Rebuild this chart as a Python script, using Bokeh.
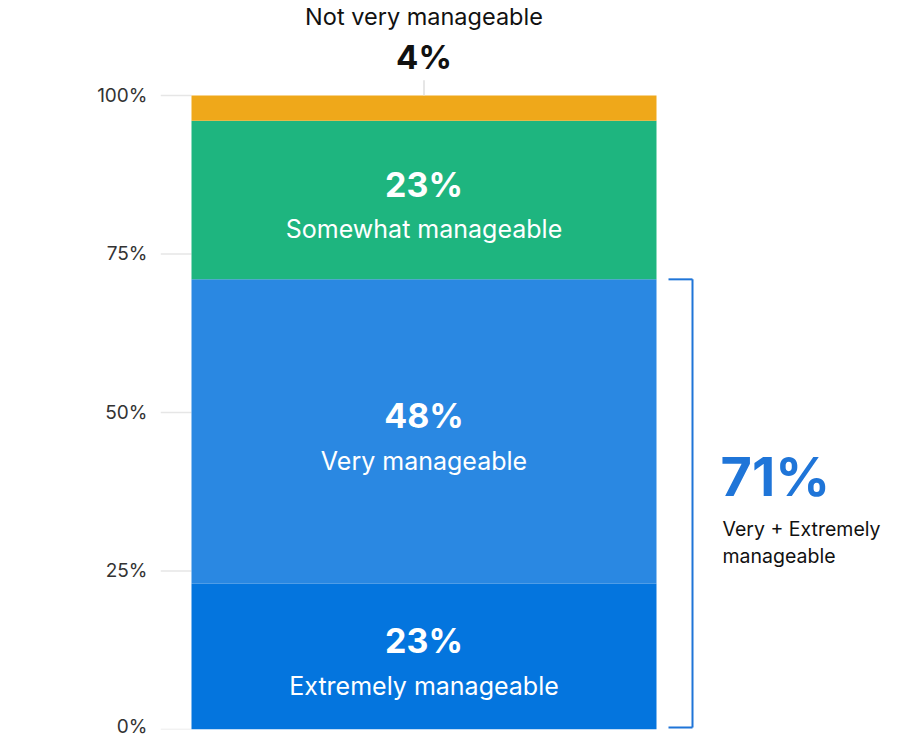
from bokeh.plotting import figure
from bokeh.models import Range1d, FixedTicker, CustomJSTickFormatter
from bokeh.core.properties import value
from bokeh.embed import file_html
from bokeh.resources import INLINE

# ---- data ----
categories = ["Extremely manageable", "Very manageable", "Somewhat manageable", "Not very manageable"]
values = [23, 48, 25, 4]          # stacked shares (segments sum to 100)
labels_pct = ["23%", "48%", "23%", "4%"]
colors = ["#0475de", "#2a88e2", "#1eb57f", "#efa81a"]
ticks = [0, 25, 50, 75, 100]
tick_labels = ["0%", "25%", "50%", "75%", "100%"]
combined_pct = "71%"
combined_label = ["Very + Extremely", "manageable"]
combined_share = 71

FONT = "Inter"

# layout constants (x in frame pixels)
BAR_C, BAR_W = 263.5, 465
BR_X, BR_T0 = 532, 508
TXT_X = 562

p = figure(width=889, height=737, output_backend="svg", toolbar_location=None,
           x_range=Range1d(0, 729), y_range=Range1d(0, 114.98),
           min_border_left=160, min_border_right=0, min_border_top=0, min_border_bottom=8)
p.outline_line_color = None
p.xaxis.visible = False
p.xgrid.visible = False
p.ygrid.visible = False
yax = p.yaxis[0]
yax.ticker = FixedTicker(ticks=ticks)
yax.formatter = CustomJSTickFormatter(args=dict(t=ticks, l=tick_labels),
                                      code="return l[t.indexOf(tick)];")
yax.axis_line_color = None
yax.major_tick_line_color = None
yax.minor_tick_line_color = None
yax.major_label_text_font = FONT
yax.major_label_text_font_size = "19px"
yax.major_label_text_color = "#333333"
yax.major_label_standoff = 7

# gridlines left of bar
bar_left = BAR_C - BAR_W / 2
p.segment(x0=[0] * len(ticks), x1=[bar_left] * len(ticks), y0=ticks, y1=ticks,
          line_color="#e6e6e6", line_width=1.5)

# stacked bar
bottoms, tops = [], []
acc = 0
for v in values:
    bottoms.append(acc)
    acc += v
    tops.append(acc)
p.vbar(x=[BAR_C] * len(values), width=BAR_W, bottom=bottoms, top=tops,
       fill_color=colors, line_color=None)

# in-bar labels (first three)
mids = [(b + t) / 2 for b, t in zip(bottoms, tops)][:3]
p.text(x=[BAR_C] * 3, y=mids, text=labels_pct[:3], text_align="center", text_baseline="middle",
       y_offset=-16, text_color="white", text_font=value(FONT), text_font_style="bold",
       text_font_size="34px")
p.text(x=[BAR_C] * 3, y=mids, text=categories[:3], text_align="center", text_baseline="middle",
       y_offset=29, text_color="white", text_font=value(FONT), text_font_size="25px")

# top segment label above the bar
top = tops[-1]
p.segment(x0=[BAR_C], x1=[BAR_C], y0=[top], y1=[top + 2.4], line_color="#dedede", line_width=1.5)
p.text(x=[BAR_C], y=[top], text=[labels_pct[3]], text_align="center", text_baseline="middle",
       y_offset=-38, text_color="#111111", text_font=value(FONT), text_font_style="bold",
       text_font_size="33px")
p.text(x=[BAR_C], y=[top], text=[categories[3]], text_align="center", text_baseline="middle",
       y_offset=-79, text_color="#111111", text_font=value(FONT), text_font_size="23.5px")

# bracket for combined share
BCOL = "#1f75d8"
p.segment(x0=[BR_X, BR_T0, BR_T0], x1=[BR_X, BR_X, BR_X],
          y0=[0.3, combined_share, 0.3], y1=[combined_share, combined_share, 0.3],
          line_color=BCOL, line_width=2)
mid_c = combined_share / 2
p.text(x=[TXT_X], y=[mid_c], text=[combined_pct], text_align="left", text_baseline="middle",
       y_offset=-28, x_offset=-2, text_color=BCOL, text_font=value(FONT), text_font_style="bold",
       text_font_size="54px")
p.text(x=[TXT_X, TXT_X], y=[mid_c, mid_c], text=combined_label, text_align="left",
       text_baseline="middle", y_offset=[25, 52], text_color="#111111",
       text_font=value(FONT), text_font_size="19.5px")

open("out.html", "w").write(file_html(p, INLINE))
